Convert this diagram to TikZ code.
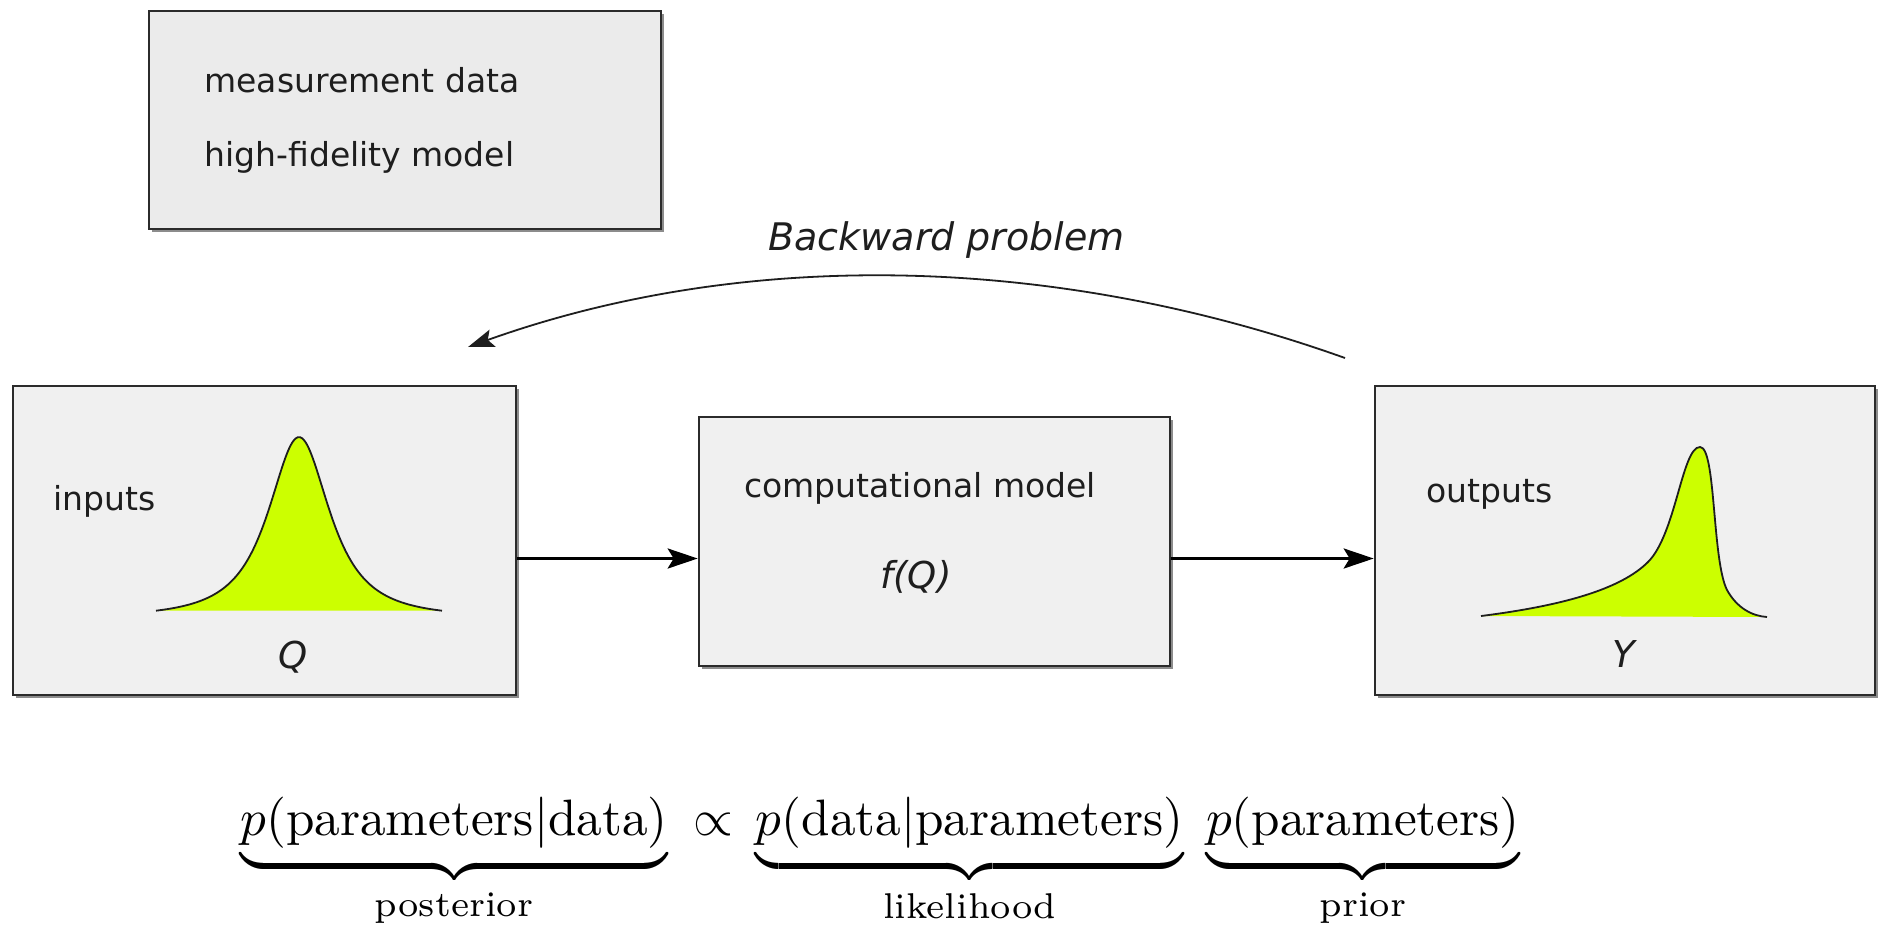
\documentclass[tikz,border=0pt]{standalone}
\usepackage{amsmath}
\usepackage{graphicx}
\usepackage{fontspec}
\newfontfamily\dejavu{DejaVu Sans}
\usetikzlibrary{arrows.meta,shadows}
\definecolor{panelgray}{HTML}{F0F0F0}
\definecolor{topgray}{HTML}{EBEBEB}
\definecolor{limefill}{HTML}{CCFF00}
\definecolor{edgecol}{HTML}{2B2B2B}
\definecolor{inkcol}{HTML}{1E1E1E}
\tikzset{
  panel/.style={draw=edgecol, line width=1.3pt, fill=panelgray, inner sep=0pt,
    drop shadow={shadow xshift=1.3pt, shadow yshift=-1.3pt, fill=black, opacity=0.45}},
  lbl/.style={inner sep=0pt, text=inkcol, font=\dejavu\fontsize{16.5}{20}\selectfont},
  ital/.style={inner sep=0pt, text=inkcol, font=\dejavu\itshape\fontsize{18.5}{22}\selectfont},
  flow/.style={line width=1.6pt, -{Stealth[length=15pt, width=10pt, inset=3pt]}},
  backarrow/.style={line width=0.9pt, draw=inkcol, -{Stealth[length=13pt, width=9pt, inset=2.5pt]}},
  curve/.style={line width=0.9pt, draw=inkcol}
}
\begin{document}
\begin{tikzpicture}[x=0.5pt, y=-0.5pt]
\useasboundingbox (0,0) rectangle (1881,927);

% boxes
\node[panel, fill=topgray, minimum width=256pt, minimum height=109pt] (meas) at (405,120) {};
\node[panel, minimum width=251.5pt, minimum height=154.5pt] (inp) at (264.5,540.5) {};
\node[panel, minimum width=235.5pt, minimum height=124.5pt] (cm) at (934.5,541.5) {};
\node[panel, minimum width=250pt, minimum height=154.5pt] (out) at (1625,540.5) {};

% texts
\node[lbl, anchor=base west] (t1) at (204,92) {measurement data};
\node[lbl, anchor=base west] (t2) at (204,166) {high-fidelity model};
\node[lbl, anchor=base west] (tin) at (53,510) {inputs};
\node[lbl, anchor=base west] (tcm) at (744,497) {computational model};
\node[ital, anchor=base] (tf) at (916,588) {f(Q)};
\node[lbl, anchor=base west] (tout) at (1426,502) {outputs};
\node[ital, anchor=base] (tq) at (293,668) {Q};
\node[ital, anchor=base] (ty) at (1624,667) {Y};
\node[inner sep=0pt, text=inkcol, font=\dejavu\itshape\fontsize{19}{23}\selectfont, anchor=base west] (tbk) at (768,250) {Backward problem};

% input distribution
\fill[limefill] plot[domain=156:442, samples=120, smooth] (\x,{618-181/((1+((\x-299)/43.5)^2)^1.3)}) -- cycle;
\draw[curve] plot[domain=156:442, samples=120, smooth] (\x,{618-181/((1+((\x-299)/43.5)^2)^1.3)});

% output distribution
\fill[limefill] (1481,616) .. controls (1560,606) and (1620,590) .. (1648,562)
  .. controls (1676,534) and (1682,447) .. (1700,447)
  .. controls (1716,447) and (1712,560) .. (1727,590)
  .. controls (1737,608) and (1752,616) .. (1767,617) -- cycle;
\draw[curve] (1481,616) .. controls (1560,606) and (1620,590) .. (1648,562)
  .. controls (1676,534) and (1682,447) .. (1700,447)
  .. controls (1716,447) and (1712,560) .. (1727,590)
  .. controls (1737,608) and (1752,616) .. (1767,617);

% forward arrows
\draw[flow] ([yshift=-9pt]inp.east) -- ([yshift=-9pt]inp.east -| cm.west);
\draw[flow] ([yshift=-8.5pt]cm.east) -- ([yshift=-8.5pt]cm.east -| out.west);

% backward arc
\coordinate (arcS) at (1345,358);
\coordinate (arcE) at (468,347);
\draw[backarrow] (arcS) .. controls (1061.5,256.7) and (751.5,245.7) .. (arcE);

% Bayes formula
\node[anchor=base west, inner sep=0pt] (bayes) at (240,835) {\scalebox{2.56}{%
  $\underbrace{p(\text{parameters}|\text{data})}_{\text{posterior}}\mkern4mu\propto\mkern3mu
   \underbrace{p(\text{data}|\text{parameters})}_{\text{likelihood}}\;
   \underbrace{p(\text{parameters})}_{\text{prior}}$}};
\end{tikzpicture}
\end{document}
